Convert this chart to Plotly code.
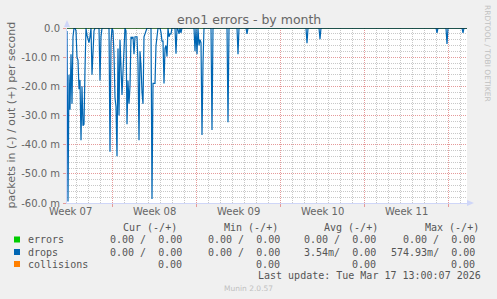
import plotly.graph_objects as go
import pandas as pd

# ---------------- data ----------------
START = "2026-02-12 05:00"      # first sample of the month view (2 h steps)
WEEK0 = "2026-02-09 00:00"      # Monday, start of ISO week 07
SPAN_HOURS = 800

hours = [0, 2, 4, 6, 8, 10, 12, 14, 16, 18, 20, 22, 24, 26, 28, 30, 32, 34, 36, 38,
         40, 42, 44, 46, 48, 50, 52, 54, 56, 64, 66, 68, 70, 84, 86, 88, 90, 92, 94, 96,
         98, 100, 102, 104, 106, 108, 110, 112, 114, 116, 118, 120, 122, 124, 126, 128, 130, 132, 134, 136,
         138, 140, 142, 144, 146, 148, 150, 152, 154, 156, 158, 160, 168, 170, 172, 174, 176, 178, 180, 182,
         186, 188, 190, 192, 194, 196, 198, 200, 202, 204, 206, 208, 210, 216, 218, 220, 222, 224, 226, 228,
         230, 254, 256, 258, 260, 262, 264, 266, 268, 270, 272, 274, 288, 290, 292, 320, 322, 324, 340, 342,
         344, 358, 360, 362, 478, 480, 482, 504, 506, 508, 738, 740, 742, 758, 760, 762, 790, 792, 794, 800]
# drops "in" (drawn negative), milli-packets per second
drops_in_m = [-1, -59.5, -16, -28, -9, -26, -3, 0, 0, -1, -10, -11, -21, -17.8, -38.5, -20, -33.5, -33, -14, 0,
              -2.5, -3.5, -5, -3, 0, -16, -9, -1, 0, 0, -18, -3, 0, 0, -42.4, -4.8, 0, -1, -9, -24,
              -27, -44, -7, -30, -4, -17, -23, -15, -4, 0, -1, -33, -18, -26, -20, -3, -3.5, -3, -9, -3,
              -3, -3, -12, -38.5, -8, -13, -22, -26, -3, -2, -1.5, 0, 0, -58.6, -19, -19, -19, -6, -1.5, 0,
              0, -1.5, -4.5, -4.5, -19, -7, -6, -9.8, 0, -3, -2, -2, 0, 0, -8.8, 0, -0.5, -2, 0, -1.7,
              0, 0, -8, 0, -9, 0, -6, -4, -5, -36.7, -12, 0, 0, -35, 0, 0, -32.3, 0, 0, -9,
              0, 0, -2, 0, 0, -5.2, 0, 0, -3.8, 0, 0, -1.7, 0, 0, -5.5, 0, 0, -1.7, 0, 0]

week_labels = ["Week 07", "Week 08", "Week 09", "Week 10", "Week 11"]
y_tick_vals_m = [0, -10, -20, -30, -40, -50, -60]
y_tick_text = ["0.0", "-10.0 m", "-20.0 m", "-30.0 m", "-40.0 m", "-50.0 m", "-60.0 m"]

legend_names = ["errors", "drops", "collisions"]
legend_colors = ["#00CC00", "#0066B3", "#FF8000"]
col_headers = ["Cur (-/+)", "Min (-/+)", "Avg (-/+)", "Max (-/+)"]
cur_vals = ["0.00 /  0.00", "0.00 /  0.00", "0.00"]
min_vals = ["0.00 /  0.00", "0.00 /  0.00", "0.00"]
avg_vals = ["0.00 /  0.00", "3.54m/  0.00", "0.00"]
max_vals = ["0.00 /  0.00", "574.93m/  0.00", "0.00"]
last_update = "Last update: Tue Mar 17 13:00:07 2026"

# ---------------- geometry ----------------
W, H = 497, 299
L, T, PW, PH = 67, 28, 400, 175
R, B = W - L - PW, H - T - PH

def px(p):
    return (p - L) / PW

def py(p):
    return (T + PH - p) / PH

off0 = (pd.Timestamp(START) - pd.Timestamp(WEEK0)).total_seconds() / 86400.0
x = [off0 + h / 24.0 for h in hours]
y = [v / 1000.0 for v in drops_in_m]
xr = [off0, off0 + SPAN_HOURS / 24.0]
yr = [-0.06, 0]

FONT = "DejaVu Sans"
MONO = "DejaVu Sans Mono"
FC = "#666666"
LC = "#555555"
MGRID = "#E59A9A"
GRID = "#C8C8C8"
AXIS = "#CFD6F8"

fig = go.Figure()
fig.add_trace(go.Scatter(x=xr, y=[0, 0], mode="lines", line=dict(color="#00CC00", width=1),
                         showlegend=False, hoverinfo="skip"))
fig.add_trace(go.Scatter(x=x, y=y, mode="lines", line=dict(color="#0066B3", width=1.2),
                         showlegend=False, hoverinfo="skip"))
# invisible trace for the overlay axis that carries the y tick labels
fig.add_trace(go.Scatter(x=xr, y=yr, mode="markers", marker=dict(opacity=0), xaxis="x", yaxis="y2",
                         showlegend=False, hoverinfo="skip"))

fig.update_layout(
    width=W, height=H, margin=dict(l=L, r=R, t=T, b=B, pad=0),
    paper_bgcolor="#F0F0F0", plot_bgcolor="#FFFFFF",
    showlegend=False,
    font=dict(family=FONT, size=10, color=FC),
    xaxis=dict(
        range=xr, tick0=0, dtick=7, showticklabels=False,
        showgrid=True, gridcolor=MGRID, griddash="1px,1px",
        ticks="outside", ticklen=3, tickcolor=MGRID,
        minor=dict(dtick=1, showgrid=True, gridcolor=GRID, griddash="1px,1px"),
        showline=True, linecolor=AXIS, linewidth=1, zeroline=False, fixedrange=True,
    ),
    yaxis=dict(
        range=yr, tick0=0, dtick=0.01, showticklabels=False,
        showgrid=True, gridcolor=MGRID, griddash="1px,1px",
        ticks="outside", ticklen=3, tickcolor=MGRID,
        minor=dict(dtick=0.002, showgrid=True, gridcolor=GRID, griddash="1px,1px"),
        showline=True, linecolor=AXIS, linewidth=1, zeroline=False, fixedrange=True,
    ),
    yaxis2=dict(
        overlaying="y", anchor="x", side="left", range=yr, tickmode="array",
        tickvals=[v / 1000.0 for v in y_tick_vals_m], ticktext=y_tick_text,
        tickfont=dict(family=FONT, size=10, color=FC), ticklabelstandoff=6,
        showgrid=False, ticks="", showline=False, zeroline=False, fixedrange=True,
    ),
)

shapes = []
shapes.append(dict(type="line", xref="paper", yref="y", x0=0, x1=1, y0=0, y1=0,
                   line=dict(color="#000000", width=1), layer="above"))
shapes.append(dict(type="path", xref="paper", yref="paper",
                   path=f"M {px(64)} {py(27)} L {px(70)} {py(27)} L {px(67)} {py(20)} Z",
                   fillcolor=AXIS, line=dict(width=0)))
shapes.append(dict(type="path", xref="paper", yref="paper",
                   path=f"M {px(467)} {py(200)} L {px(467)} {py(206)} L {px(474)} {py(203)} Z",
                   fillcolor=AXIS, line=dict(width=0)))
row_y = [239.5, 252, 264]
for c, ry in zip(legend_colors, row_y):
    shapes.append(dict(type="rect", xref="paper", yref="paper",
                       x0=px(14), x1=px(20), y0=py(ry - 3), y1=py(ry + 3),
                       fillcolor=c, line=dict(width=0)))

ann = []
ann.append(dict(text="eno1 errors - by month", xref="paper", yref="paper",
                x=px(249), y=py(19.5), xanchor="center", yanchor="middle", showarrow=False,
                font=dict(family=FONT, size=12.5, color=FC)))
ann.append(dict(text="packets in (-) / out (+) per second", xref="paper", yref="paper",
                x=px(11), y=py(115.5), xanchor="center", yanchor="middle", showarrow=False,
                textangle=-90, font=dict(family=FONT, size=11, color=FC)))
ann.append(dict(text="RRDTOOL / TOBI OETIKER", xref="paper", yref="paper",
                x=px(487.5), y=py(53.5), xanchor="center", yanchor="middle", showarrow=False,
                textangle=90, font=dict(family=FONT, size=7.5, color="#C0C0C0")))
for i, lab in enumerate(week_labels):
    ann.append(dict(text=lab, xref="x", yref="paper", x=3.5 + 7 * i, y=py(211.5),
                    xanchor="center", yanchor="middle", showarrow=False,
                    font=dict(family=FONT, size=10, color=FC)))

head_x = [121, 222, 322, 423]
for hx, htxt in zip(head_x, col_headers):
    ann.append(dict(text=htxt.replace(" ", "&nbsp;"), xref="paper", yref="paper", x=px(hx), y=py(227),
                    xanchor="left", yanchor="middle", showarrow=False,
                    font=dict(family=MONO, size=10, color=LC)))
col_right = [184, 282, 378, 477]
for name, ry, cv, mv, av, xv in zip(legend_names, row_y, cur_vals, min_vals, avg_vals, max_vals):
    ann.append(dict(text=name, xref="paper", yref="paper", x=px(26), y=py(ry),
                    xanchor="left", yanchor="middle", showarrow=False,
                    font=dict(family=MONO, size=10, color=LC)))
    for cx, txt in zip(col_right, [cv, mv, av, xv]):
        ann.append(dict(text=txt.replace(" ", "&nbsp;"), xref="paper", yref="paper", x=px(cx), y=py(ry),
                        xanchor="right", yanchor="middle", showarrow=False,
                        font=dict(family=MONO, size=10, color=LC)))
ann.append(dict(text=last_update.replace(" ", "&nbsp;"), xref="paper", yref="paper", x=px(483), y=py(275.5),
                xanchor="right", yanchor="middle", showarrow=False,
                font=dict(family=MONO, size=10, color=LC)))
ann.append(dict(text="Munin 2.0.57", xref="paper", yref="paper", x=px(248), y=py(288.5),
                xanchor="center", yanchor="middle", showarrow=False,
                font=dict(family=FONT, size=7.5, color="#C0C0C0")))

fig.update_layout(shapes=shapes, annotations=ann)
fig.write_html("out.html")
